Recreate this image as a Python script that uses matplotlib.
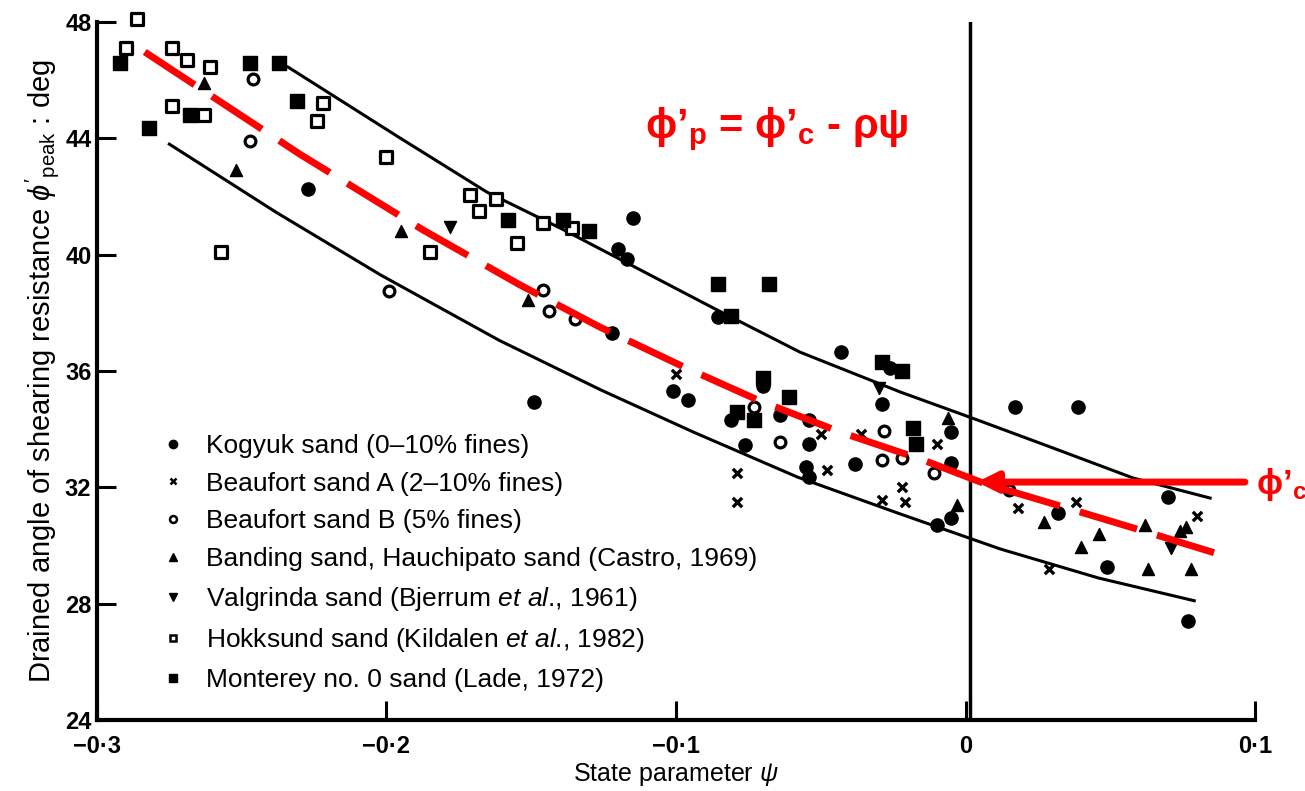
import matplotlib
matplotlib.use('Agg')
import matplotlib.pyplot as plt
from matplotlib.lines import Line2D

plt.rcParams['font.family'] = ['Liberation Sans', 'DejaVu Sans']
plt.rcParams['mathtext.fontset'] = 'custom'
plt.rcParams['mathtext.rm'] = 'Liberation Sans'
plt.rcParams['mathtext.it'] = 'Liberation Sans:italic'
plt.rcParams['mathtext.bf'] = 'Liberation Sans:bold'

# data (state parameter psi, peak angle deg)
kogyuk_x = [-0.227, -0.149, -0.115, -0.120, -0.117, -0.0855, -0.122, -0.101, -0.096, -0.081,
            -0.076, -0.064, -0.054, -0.054, -0.055, -0.054, -0.038, -0.043, -0.029, -0.005,
            -0.005, -0.010, -0.005, 0.017, 0.039, 0.032, 0.049, 0.070, 0.077, -0.070, -0.026]
kogyuk_y = [42.25, 34.95, 41.25, 40.2, 39.85, 37.85, 37.3, 35.3, 35.0, 34.3,
            33.45, 34.5, 34.3, 33.5, 32.7, 32.35, 32.8, 36.65, 34.85, 33.9,
            32.85, 30.7, 30.95, 34.75, 34.75, 31.1, 29.25, 31.65, 27.4, 35.5, 36.1]

beaufA_x = [-0.100, -0.079, -0.079, -0.050, -0.048, -0.036, -0.022, -0.021, -0.029, -0.010,
            0.018, 0.038, 0.029, 0.080]
beaufA_y = [35.9, 32.5, 31.5, 33.85, 32.6, 33.85, 32.0, 31.5, 31.55, 33.5,
            31.3, 31.5, 29.2, 31.0]

beaufB_x = [-0.246, -0.247, -0.199, -0.146, -0.144, -0.135, -0.073, -0.064, -0.028, -0.029,
            -0.022, -0.011, 0.015]
beaufB_y = [46.05, 43.9, 38.75, 38.8, 38.05, 37.8, 34.75, 33.55, 33.95, 32.95,
            33.0, 32.5, 31.9]

banding_x = [-0.263, -0.252, -0.195, -0.151, -0.006, -0.003, 0.027, 0.046, 0.040, 0.062,
             0.063, 0.078, 0.076, 0.074]
banding_y = [45.9, 42.9, 40.8, 38.45, 34.4, 31.4, 30.8, 30.4, 29.95, 30.7,
             29.2, 29.2, 30.65, 30.5]

valg_x = [-0.178, 0.071, -0.030]
valg_y = [40.95, 29.9, 35.4]

hokk_x = [-0.286, -0.290, -0.274, -0.269, -0.261, -0.274, -0.263, -0.222, -0.224, -0.257,
          -0.200, -0.171, -0.168, -0.162, -0.155, -0.146, -0.136, -0.185]
hokk_y = [48.1, 47.1, 47.1, 46.7, 46.45, 45.1, 44.8, 45.2, 44.6, 40.1,
          43.35, 42.05, 41.5, 41.9, 40.4, 41.1, 40.9, 40.1]

mont_x = [-0.292, -0.282, -0.247, -0.237, -0.268, -0.231, -0.158, -0.139, -0.130, -0.0855,
          -0.068, -0.081, -0.070, -0.079, -0.073, -0.061, -0.029, -0.022, -0.018, -0.017]
mont_y = [46.6, 44.35, 46.6, 46.6, 44.8, 45.3, 41.2, 41.2, 40.8, 39.0,
          39.0, 37.9, 35.75, 34.6, 34.3, 35.1, 36.3, 36.0, 34.05, 33.5]

# bounding curves and the red trend line
upper_x = [-0.234, -0.1953, -0.1653, -0.1401, -0.0872, -0.0572, -0.0226, 0.004, 0.0292, 0.0579, 0.0845]
upper_y = [46.45, 44.01, 42.15, 40.92, 38.17, 36.65, 35.28, 34.32, 33.39, 32.32, 31.63]
lower_x = [-0.275, -0.238, -0.202, -0.161, -0.126, -0.094, -0.058, -0.023, 0.012, 0.046, 0.079]
lower_y = [43.8, 41.45, 39.3, 37.05, 35.35, 33.9, 32.35, 31.1, 29.88, 28.88, 28.1]
trend_x = [-0.2835, -0.230, -0.1874, -0.1539, -0.1263, -0.0986, -0.0717, -0.0433, -0.0147,
           0.006, 0.035, 0.0637, 0.0862]
trend_y = [46.97, 43.46, 40.85, 38.96, 37.51, 36.2, 35.0, 33.9, 32.94, 32.15, 31.29, 30.43, 29.74]

xticks = [-0.3, -0.2, -0.1, 0.0, 0.1]
xtick_labels = ['\u22120\u00b73', '\u22120\u00b72', '\u22120\u00b71', '0', '0\u00b71']
yticks = [24, 28, 32, 36, 40, 44, 48]

labels = ['Kogyuk sand (0\u201310% fines)',
          'Beaufort sand A (2\u201310% fines)',
          'Beaufort sand B (5% fines)',
          'Banding sand, Hauchipato sand (Castro, 1969)',
          'Valgrinda sand (Bjerrum $\\it{et\\ al}$., 1961)',
          'Hokksund sand (Kildalen $\\it{et\\ al}$., 1982)',
          'Monterey no. 0 sand (Lade, 1972)']

fig = plt.figure(figsize=(13.05, 7.91), dpi=100)
ax = fig.add_axes([0.0743, 0.0898, 0.8874, 0.8824])

ax.plot(upper_x, upper_y, color='black', lw=2.2)
ax.plot(lower_x, lower_y, color='black', lw=2.2)
ax.axvline(0.0015, color='black', lw=2.5)

k = dict(clip_on=False, zorder=3)
ax.scatter(kogyuk_x, kogyuk_y, s=90, marker='o', color='black', **k)
ax.scatter(beaufA_x, beaufA_y, s=45, marker='x', color='black', linewidths=2.4, **k)
ax.scatter(beaufB_x, beaufB_y, s=60, marker='o', facecolors='white', edgecolors='black', linewidths=2.3, **k)
ax.scatter(banding_x, banding_y, s=75, marker='^', color='black', **k)
ax.scatter(valg_x, valg_y, s=75, marker='v', color='black', **k)
ax.scatter(hokk_x, hokk_y, s=70, marker='s', facecolors='white', edgecolors='black', linewidths=2.3, **k)
ax.scatter(mont_x, mont_y, s=90, marker='s', color='black', **k)

ax.plot(trend_x, trend_y, color='red', lw=5, dashes=(8.6, 3.0), solid_capstyle='butt', zorder=4)

ax.annotate('', xy=(0.004, 32.18), xytext=(0.0965, 32.18),
            arrowprops=dict(arrowstyle='-|>,head_length=1.2,head_width=0.6', color='red', lw=5,
                            shrinkA=0, shrinkB=0), zorder=5)
ax.text(0.1005, 32.1, '\u03d5\u2019$_\\mathregular{c}$', color='red', fontsize=25,
        fontweight='bold', ha='left', va='center', clip_on=False)
ax.text(-0.1107, 44.3, '\u03d5\u2019$_\\mathregular{p}$ = \u03d5\u2019$_\\mathregular{c}$ - \u03c1\u03c8',
        color='red', fontsize=30, fontweight='bold', ha='left', va='center')

handles = [Line2D([], [], ls='none', marker='o', color='black', ms=6),
           Line2D([], [], ls='none', marker='x', color='black', ms=5, mew=1.8),
           Line2D([], [], ls='none', marker='o', mfc='white', mec='black', ms=5, mew=1.8),
           Line2D([], [], ls='none', marker='^', color='black', ms=6),
           Line2D([], [], ls='none', marker='v', color='black', ms=6),
           Line2D([], [], ls='none', marker='s', mfc='white', mec='black', ms=5, mew=1.8),
           Line2D([], [], ls='none', marker='s', color='black', ms=6)]
ax.legend(handles, labels, loc='upper left', bbox_to_anchor=(0.045, 0.425), frameon=False,
          fontsize=19, handlelength=1.0, handletextpad=0.75, labelspacing=0.52,
          borderaxespad=0)

ax.set_xlim(-0.3, 0.1)
ax.set_ylim(24, 48)
ax.spines['top'].set_visible(False)
ax.spines['right'].set_visible(False)
ax.spines['left'].set_linewidth(3)
ax.spines['bottom'].set_linewidth(3)
ax.set_xticks(xticks)
ax.set_xticklabels(xtick_labels)
ax.set_yticks(yticks)
ax.tick_params(direction='in', length=14, width=2.2, labelsize=17)
ax.tick_params(axis='x', pad=11)
ax.tick_params(axis='y', pad=4)
for t in ax.get_xticklabels() + ax.get_yticklabels():
    t.set_fontweight('bold')
ax.set_xlabel('State parameter $\\psi$', fontsize=18, labelpad=2)
ax.set_ylabel("Drained angle of shearing resistance $\\phi'_{\\mathregular{peak}}$ : deg",
              fontsize=21, labelpad=3)

fig.savefig('out.png', dpi=100)
